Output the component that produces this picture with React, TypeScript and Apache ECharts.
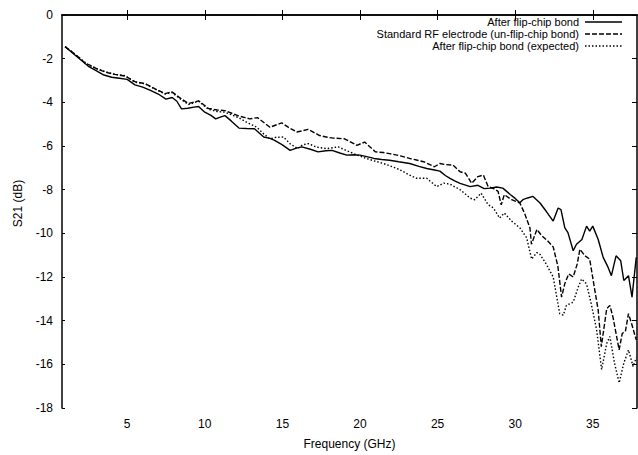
import React, { useEffect, useRef } from "react";
import * as echarts from "echarts";

// ---- data ----
const xTickValues = [5, 10, 15, 20, 25, 30, 35];

const freqSolid = [1.0, 1.5, 2.0, 2.5, 3.0, 3.5, 4.0, 4.5, 5.0, 5.5, 6.0, 6.5, 7.0, 7.5, 7.9, 8.2, 8.5, 8.9, 9.3, 9.6, 10.0, 10.4, 10.7, 11.0, 11.3, 11.7, 12.2, 12.7, 13.2, 13.8, 14.2, 14.5, 15.0, 15.5, 15.9, 16.25, 16.8, 17.3, 17.8, 18.2, 18.7, 19.15, 19.6, 20.0, 20.5, 20.9, 21.4, 21.9, 22.5, 23.2, 23.8, 24.3, 24.8, 25.15, 25.5, 25.8, 26.1, 26.45, 27.1, 27.6, 28.0, 28.4, 28.8, 29.2, 29.7, 30.0, 30.3, 30.5, 30.8, 31.15, 31.6, 32.0, 32.45, 32.77, 32.95, 33.2, 33.4, 33.74, 33.95, 34.3, 34.6, 34.8, 35.0, 35.35, 35.67, 35.95, 36.2, 36.5, 36.8, 37.0, 37.3, 37.53, 37.8];
const s21Solid = [-1.45, -1.75, -2.05, -2.35, -2.55, -2.75, -2.85, -2.9, -2.95, -3.2, -3.3, -3.45, -3.62, -3.85, -3.78, -3.95, -4.3, -4.27, -4.22, -4.19, -4.45, -4.6, -4.76, -4.68, -4.61, -4.85, -5.18, -5.2, -5.21, -5.59, -5.65, -5.74, -5.95, -6.2, -6.1, -6.04, -6.15, -6.27, -6.22, -6.2, -6.32, -6.42, -6.4, -6.42, -6.5, -6.57, -6.62, -6.65, -6.72, -6.8, -6.93, -7.03, -7.1, -7.15, -7.35, -7.48, -7.6, -7.71, -7.86, -7.8, -7.95, -7.93, -7.88, -7.93, -8.23, -8.4, -8.6, -8.46, -8.38, -8.31, -8.61, -8.99, -9.44, -8.84, -8.91, -9.75, -9.97, -10.8, -10.5, -10.28, -9.67, -9.9, -9.67, -10.28, -11.1, -11.5, -11.94, -11.03, -11.26, -12.16, -11.94, -12.92, -11.1];

const freqStandard = [1.0, 1.5, 2.0, 2.3, 2.6, 3.0, 3.6, 4.2, 4.87, 5.5, 6.16, 6.8, 7.45, 7.88, 8.5, 8.95, 9.6, 10.24, 10.8, 11.3, 12.17, 12.6, 12.9, 13.4, 14.2, 14.96, 15.4, 15.93, 16.67, 17.4, 17.9, 18.3, 19.0, 19.8, 20.3, 21.0, 21.5, 21.9, 22.6, 23.2, 24.1, 24.8, 25.15, 25.5, 26.0, 26.45, 26.8, 27.2, 27.6, 27.95, 28.26, 28.6, 28.9, 29.1, 29.3, 29.77, 30.3, 30.6, 30.95, 31.05, 31.4, 31.7, 32.1, 32.45, 32.75, 32.99, 33.2, 33.45, 33.74, 34.0, 34.17, 34.5, 34.8, 35.1, 35.35, 35.55, 35.9, 36.1, 36.3, 36.7, 36.9, 37.1, 37.3, 37.5, 37.8];
const s21Standard = [-1.45, -1.72, -2.0, -2.22, -2.3, -2.45, -2.62, -2.72, -2.8, -3.05, -3.15, -3.38, -3.6, -3.52, -3.85, -4.05, -3.93, -4.28, -4.35, -4.38, -4.62, -4.7, -4.76, -4.7, -5.14, -4.94, -5.15, -5.36, -5.24, -5.52, -5.6, -5.64, -5.67, -5.97, -5.82, -6.27, -6.3, -6.35, -6.45, -6.57, -6.72, -6.95, -6.8, -6.85, -6.88, -7.18, -7.25, -7.71, -7.4, -7.33, -7.86, -7.95, -8.08, -8.69, -8.23, -8.46, -8.61, -9.07, -9.75, -10.5, -9.82, -10.1, -10.35, -10.62, -11.5, -12.92, -12.3, -11.86, -12.0, -11.4, -10.73, -11.03, -11.18, -12.47, -13.52, -15.19, -13.45, -13.3, -13.83, -15.34, -14.58, -14.5, -13.68, -14.13, -14.88];

const freqExpected = [1.0, 1.5, 2.0, 2.5, 3.0, 3.6, 4.2, 4.87, 5.5, 6.16, 6.8, 7.45, 7.88, 8.5, 8.95, 9.6, 10.24, 10.8, 11.3, 12.17, 12.8, 13.35, 13.8, 14.2, 14.6, 15.07, 15.5, 16.0, 16.3, 16.67, 17.2, 17.86, 18.6, 19.1, 19.6, 20.4, 21.0, 21.5, 22.1, 22.6, 23.1, 23.65, 24.3, 24.95, 25.4, 25.8, 26.45, 27.1, 27.4, 27.8, 28.26, 28.6, 29.0, 29.3, 29.77, 30.3, 30.74, 31.06, 31.4, 31.6, 32.0, 32.45, 32.87, 33.1, 33.3, 33.74, 34.06, 34.28, 34.6, 34.9, 35.25, 35.57, 35.9, 36.1, 36.4, 36.7, 37.0, 37.3, 37.6, 37.8];
const s21Expected = [-1.45, -1.72, -2.02, -2.28, -2.45, -2.6, -2.72, -2.78, -3.08, -3.15, -3.4, -3.62, -3.55, -3.88, -4.1, -3.95, -4.32, -4.42, -4.45, -4.7, -4.95, -5.14, -5.45, -5.67, -5.6, -5.59, -5.9, -6.12, -5.95, -5.89, -6.05, -6.12, -6.04, -6.2, -6.35, -6.57, -6.7, -6.8, -6.95, -7.1, -7.3, -7.48, -7.48, -7.86, -7.7, -7.75, -8.0, -8.39, -8.46, -8.16, -8.69, -8.84, -9.3, -9.07, -9.44, -9.75, -10.2, -11.18, -10.88, -10.96, -11.41, -12.0, -13.68, -13.75, -13.3, -13.15, -12.47, -12.09, -12.32, -13.22, -14.43, -16.24, -15.04, -14.73, -15.94, -16.85, -15.94, -15.34, -16.1, -15.7];

const legendNames = [
  "After flip-chip bond",
  "Standard RF electrode (un-flip-chip bond)",
  "After flip-chip bond (expected)",
];

const FONT = "'Liberation Sans', Arial, Helvetica, sans-serif";

function zip(xs: number[], ys: number[]) {
  return xs.map((x, i) => [x, ys[i]]);
}

export default function App() {
  const ref = useRef<HTMLDivElement>(null);
  useEffect(() => {
    if (!ref.current) return;
    const chart = echarts.init(ref.current, undefined, { renderer: "svg" });
    const lineTypes: any[] = ["solid", [5, 2], [1.5, 2]];
    const seriesData = [
      zip(freqSolid, s21Solid),
      zip(freqStandard, s21Standard),
      zip(freqExpected, s21Expected),
    ];
    const axisLine = { show: true, lineStyle: { color: "#000", width: 1.5 } };
    const legendY = [22, 34, 46];
    chart.setOption({
      animation: false,
      backgroundColor: "#fff",
      textStyle: { fontFamily: FONT },
      grid: { left: 62, right: 1, top: 15, bottom: 43, containLabel: false },
      xAxis: [
        {
          type: "value",
          min: 0.8,
          max: 37.85,
          position: "bottom",
          name: "Frequency (GHz)",
          nameLocation: "middle",
          nameGap: 30,
          nameTextStyle: { color: "#000", fontSize: 12, fontFamily: FONT },
          axisLine,
          axisTick: { show: true, inside: true, length: 5, customValues: xTickValues, lineStyle: { color: "#000" } },
          axisLabel: { customValues: xTickValues, color: "#000", fontSize: 12, fontFamily: FONT, margin: 10 },
          splitLine: { show: false },
        },
        {
          type: "value",
          min: 0.8,
          max: 37.85,
          position: "top",
          axisLine,
          axisTick: { show: true, inside: true, length: 5, customValues: xTickValues, lineStyle: { color: "#000" } },
          axisLabel: { show: false },
          splitLine: { show: false },
        },
      ],
      yAxis: [
        {
          type: "value",
          min: -18,
          max: 0,
          interval: 2,
          position: "left",
          name: "S21 (dB)",
          nameLocation: "middle",
          nameGap: 38,
          nameRotate: 90,
          nameTextStyle: { color: "#000", fontSize: 12, fontFamily: FONT, padding: [0, 0, 0, 16] },
          axisLine,
          axisTick: { show: true, inside: true, length: 3, lineStyle: { color: "#000" } },
          axisLabel: { color: "#000", fontSize: 12, fontFamily: FONT, margin: 9 },
          splitLine: { show: false },
        },
        {
          type: "value",
          min: -18,
          max: 0,
          interval: 2,
          position: "right",
          axisLine,
          axisTick: { show: true, inside: true, length: 5, lineStyle: { color: "#000" } },
          axisLabel: { show: false },
          splitLine: { show: false },
        },
      ],
      series: seriesData.map((d, i) => ({
        name: legendNames[i],
        type: "line",
        data: d,
        showSymbol: false,
        symbol: "none",
        lineStyle: { color: "#000", width: 1.4, type: lineTypes[i] },
        z: 3 - i,
      })),
      graphic: legendNames.flatMap((n, i) => [
        {
          type: "text",
          x: 579,
          y: legendY[i],
          style: {
            text: n,
            textAlign: "right",
            textVerticalAlign: "middle",
            fontSize: 11,
            fontFamily: FONT,
            fill: "#000",
          },
        },
        {
          type: "line",
          shape: { x1: 585, y1: legendY[i], x2: 622, y2: legendY[i] },
          style: { stroke: "#000", lineWidth: 1.4, lineDash: i === 0 ? null : lineTypes[i] },
        },
      ]),
    });
    return () => chart.dispose();
  }, []);
  return (
    <div
      ref={ref}
      style={{ position: "absolute", left: 0, top: 0, width: 638, height: 455, background: "#fff" }}
    />
  );
}
